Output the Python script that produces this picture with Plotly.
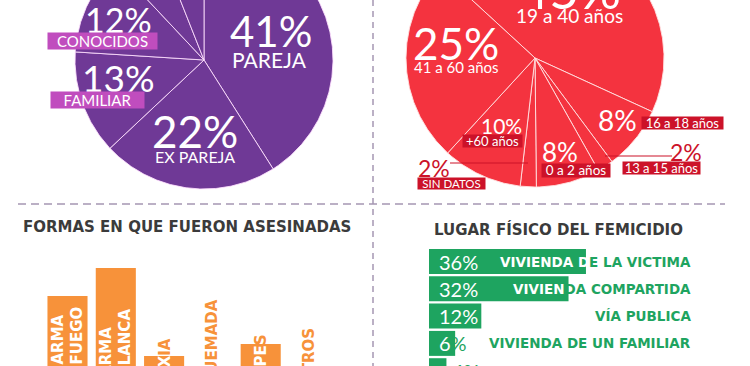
import numpy as np
import plotly.graph_objects as go

# ---------------- data ----------------
vinculo_labels = ["PAREJA", "EX PAREJA", "FAMILIAR", "CONOCIDOS", "OTROS", "SIN DATOS"]
vinculo_pct = [41, 22, 13, 12, 6, 6]

edad_labels = ["19 a 40 años", "16 a 18 años", "13 a 15 años", "0 a 2 años",
               "SIN DATOS", "+60 años", "41 a 60 años"]
edad_pct = [45, 8, 2, 8, 2, 10, 25]

formas_labels = ["ARMA DE FUEGO", "ARMA BLANCA", "ASFIXIA", "QUEMADA", "GOLPES", "OTROS"]
formas_pct = [26, 33, 11, 8, 14, 8]

lugar_labels = ["VIVIENDA DE LA VICTIMA", "VIVIENDA COMPARTIDA", "VÍA PUBLICA",
                "VIVIENDA DE UN FAMILIAR", "DESCONOCIDO"]
lugar_pct = [36, 32, 12, 6, 4]

title_formas = "FORMAS EN QUE FUERON ASESINADAS"
title_lugar = "LUGAR FÍSICO DEL FEMICIDIO"

# ---------------- style ----------------
W, H = 750, 366
PURPLE = "#6F3996"
MAGENTA = "#C04DBE"
RED = "#F4333F"
DKRED = "#CC1229"
ORANGE = "#F7923A"
GREEN = "#1EA460"
DARK = "#3B3B3B"
DASH = "#A597B3"
NUM_FONT = "Lato"
BOLD_FONT = "DejaVu Sans"

fig = go.Figure()


def px_ann(x, y, text, **kw):
    """annotation placed in pixel coordinates of the 750x366 canvas"""
    kw.setdefault("xanchor", "center")
    kw.setdefault("yanchor", "middle")
    fig.add_annotation(x=x / W, y=1 - y / H, xref="paper", yref="paper", text=text,
                       showarrow=False, **kw)


def char_w(c, bold=True):
    if c == " ":
        return 0.33
    if c in "IÍ1":
        return 0.37
    if c == "M":
        return 0.99
    if c == "%":
        return 0.9
    return 0.75 if bold else 0.6


def text_w(s, size, bold=True):
    return sum(char_w(c, bold) for c in s) * size


def span(txt, color):
    return f"<span style='color:{color}'>{txt}</span>" if txt else ""


# ---------- pies drawn as filled sectors on a pixel canvas (cropped at the top) ----------
def add_pie(values, labels, cx, cy, r, rotation, color, line_color):
    total = float(sum(values))
    a = rotation
    for v, lab in zip(values, labels):
        a1 = a + 360.0 * v / total
        t = np.radians(np.linspace(a, a1, max(3, int(abs(a1 - a) * 2))))
        xs = np.concatenate([[cx], cx + r * np.sin(t), [cx]])
        ys = np.concatenate([[cy], cy - r * np.cos(t), [cy]])
        fig.add_trace(go.Scatter(x=xs, y=ys, mode="lines", fill="toself",
                                 fillcolor=color, line=dict(color=line_color, width=1),
                                 name=lab, hoverinfo="name", showlegend=False,
                                 xaxis="x", yaxis="y"))
        a = a1


add_pie(vinculo_pct, vinculo_labels, 204, 60, 129, 0, PURPLE, "rgba(255,225,255,0.85)")
add_pie(edad_pct, edad_labels, 535, 58, 129, 312.6, RED, "rgba(255,225,225,0.9)")

# pie label styling (pixel positions)
left_pct_pos = [(271, 31, 42), (195, 131, 44), (118, 77, 37), (118, 20, 34), None, None]
left_lbl_pos = [(269, 59, 21, None), (195, 157, 16, None),
                (98, 100, 15, 93), (102, 41, 15, 109), None, None]
for i, (v, lab) in enumerate(zip(vinculo_pct, vinculo_labels)):
    if left_pct_pos[i]:
        x, y, s = left_pct_pos[i]
        px_ann(x, y, f"{v}%", font=dict(family=NUM_FONT, size=s, color="white"))
    if left_lbl_pos[i]:
        x, y, s, w = left_lbl_pos[i]
        kw = {}
        if w:
            kw = dict(bgcolor=MAGENTA, width=w, height=s + 1, borderpad=0)
        px_ann(x, y, lab, font=dict(family=NUM_FONT, size=s, color="white"), **kw)

right_pct_pos = [(570, -11, 52, "white"), (617, 120, 28, "white"), (686, 152, 23, DKRED),
                 (560, 152, 26, "white"), (434, 168, 23, DKRED), (501, 126, 21, "white"),
                 (456, 43, 44, "white")]
right_lbl_pos = [(569, 15, 19, None), (682, 123, 13, 81), (661, 167.5, 13, 77),
                 (576, 170.5, 13.5, 68), (451, 183, 11.5, 67), (492, 141, 13, 59),
                 (456, 67, 15, None)]
for i, (v, lab) in enumerate(zip(edad_pct, edad_labels)):
    x, y, s, c = right_pct_pos[i]
    px_ann(x, y, f"{v}%", font=dict(family=NUM_FONT, size=s, color=c))
    x, y, s, w = right_lbl_pos[i]
    kw = {}
    if w:
        kw = dict(bgcolor=DKRED, width=w, height=s - 1, borderpad=0)
    px_ann(x, y, lab, font=dict(family=NUM_FONT, size=s, color="white"), **kw)

# leader lines of the small slices
for (x0, x1, y) in [(605, 672, 156), (450, 528, 163)]:
    fig.add_shape(type="line", xref="x", yref="y", x0=x0, x1=x1, y0=y, y1=y,
                  line=dict(color=DKRED, width=1.2))

# dashed dividers
fig.add_shape(type="line", xref="x", yref="y", x0=373, x1=373, y0=0, y1=H,
              line=dict(color=DASH, width=1.5, dash="6px,5px"))
fig.add_shape(type="line", xref="x", yref="y", x0=18, x1=725, y0=204, y1=204,
              line=dict(color=DASH, width=1.5, dash="8px,5px"))

# ---------- left bottom: vertical bars ----------
BASE_PX, PX_PER_PCT = 400.0, 4.0       # pixel of 0 % and pixels per %
X0_PX, PITCH = 67.5, 48.3               # pixel centre of first bar, spacing
y2_top_px = 230
y2_range = [(BASE_PX - H) / PX_PER_PCT, (BASE_PX - y2_top_px) / PX_PER_PCT]
x2_range = [-X0_PX / PITCH, (W / 2 - X0_PX) / PITCH]
fig.add_trace(go.Bar(x=list(range(len(formas_pct))), y=formas_pct, width=0.83,
                     marker=dict(color=ORANGE, line=dict(width=0)),
                     hovertext=formas_labels, hoverinfo="text+y",
                     xaxis="x2", yaxis="y2", showlegend=False))

formas_lines = [["ARMA", "FUEGO"], ["ARMA", "BLANCA"], ["ASFIXIA"], ["QUEMADA"], ["GOLPES"], ["OTROS"]]
formas_text_top = [305, 307, 337, 297, 332, 326]
VS = 15
for i, v in enumerate(formas_pct):
    bar_top = BASE_PX - PX_PER_PCT * v
    lines = formas_lines[i]
    bottom = formas_text_top[i] + max(text_w(l, VS) for l in lines)
    out = []
    for l in lines:
        acc = 0.0
        html = ""
        for c in l:
            w = char_w(c) * VS
            yc = bottom - acc - w / 2
            html += span(c, "white" if yc > bar_top else ORANGE)
            acc += w
        out.append(html)
    px_ann(X0_PX + PITCH * i, formas_text_top[i], "<br>".join(out),
           textangle=-90, yanchor="top", xanchor="center", align="left",
           font=dict(family=BOLD_FONT, size=VS, color="white", weight="bold"))

px_ann(187, 227, title_formas, font=dict(family=BOLD_FONT, size=15, color=DARK, weight="bold"))

# ---------- right bottom: horizontal bars ----------
H0_PX, HPX_PER_PCT = 429.0, 4.36
R0_PX, RPITCH = 261.5, 27.3
y3_top_px = 230
x3_range = [(W / 2 - H0_PX) / HPX_PER_PCT, (W - H0_PX) / HPX_PER_PCT]
y3_range = [(H - R0_PX) / RPITCH, (y3_top_px - R0_PX) / RPITCH]
fig.add_trace(go.Bar(y=list(range(len(lugar_pct))), x=lugar_pct, orientation="h", width=0.915,
                     marker=dict(color=GREEN, line=dict(width=0)),
                     hovertext=lugar_labels, hoverinfo="text+x",
                     xaxis="x3", yaxis="y3", showlegend=False))

LBL_RIGHT, LS = 693, 13.5
PS = 20
for i, (v, lab) in enumerate(zip(lugar_pct, lugar_labels)):
    bar_end = H0_PX + HPX_PER_PCT * v
    row_y = R0_PX + RPITCH * i
    left = LBL_RIGHT - text_w(lab, LS)
    acc = 0.0
    html = ""
    for c in lab:
        w = char_w(c) * LS
        xc = left + acc + w / 2
        html += span(c, "white" if xc < bar_end else GREEN)
        acc += w
    px_ann(LBL_RIGHT, row_y, html, xanchor="right",
           font=dict(family=BOLD_FONT, size=LS, color=GREEN, weight="bold"))
    ptxt = f"{v}%"
    if HPX_PER_PCT * v >= 20:
        start = H0_PX + 8
        acc = 0.0
        html = ""
        for c in ptxt:
            w = (0.9 if c == "%" else 0.58) * PS
            html += span(c, "white" if start + acc + w / 2 < bar_end else GREEN)
            acc += w
        px_ann(start, row_y, html, xanchor="left",
               font=dict(family=NUM_FONT, size=PS, color="white"))
    else:
        px_ann(bar_end + 4, row_y, ptxt, xanchor="left",
               font=dict(family=NUM_FONT, size=PS, color=GREEN))

px_ann(558, 229, title_lugar, font=dict(family=BOLD_FONT, size=15, color=DARK, weight="bold"))

# ---------------- layout ----------------
hidden = dict(visible=False, fixedrange=True, showgrid=False, zeroline=False)
fig.update_layout(
    width=W, height=H, margin=dict(l=0, r=0, t=0, b=0),
    paper_bgcolor="white", plot_bgcolor="rgba(0,0,0,0)",
    showlegend=False,
    xaxis=dict(domain=[0, 1], range=[0, W], **hidden),
    yaxis=dict(domain=[0, 1], range=[H, 0], **hidden),
    xaxis2=dict(domain=[0, 0.5], range=x2_range, anchor="y2", **hidden),
    yaxis2=dict(domain=[0, (H - y2_top_px) / H], range=y2_range, anchor="x2", **hidden),
    xaxis3=dict(domain=[0.5, 1], range=x3_range, anchor="y3", **hidden),
    yaxis3=dict(domain=[0, (H - y3_top_px) / H], range=y3_range, anchor="x3", **hidden),
)

fig.write_html("out.html", config={"displayModeBar": False},
               post_script="document.body.style.margin='0px';")
